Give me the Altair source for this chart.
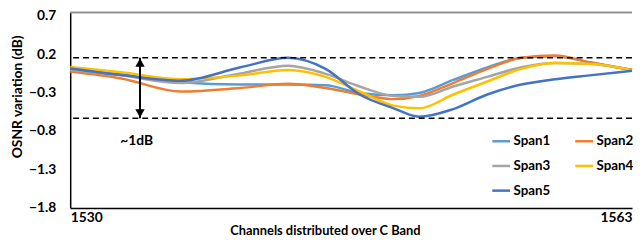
import altair as alt
import pandas as pd

channels = [1530, 1533, 1536.5, 1540, 1542.8, 1545, 1547, 1549, 1550.5, 1552.5, 1554.5, 1556.5, 1558.5, 1560.5, 1563]
span1 = [0.01, -0.06, -0.16, -0.19, -0.19, -0.20, -0.30, -0.33, -0.30, -0.13, 0.035, 0.16, 0.18, 0.10, 0.0]
span2 = [-0.02, -0.11, -0.28, -0.235, -0.18, -0.235, -0.32, -0.38, -0.34, -0.17, 0.015, 0.16, 0.19, 0.10, 0.0]
span3 = [0.0, -0.07, -0.17, -0.045, 0.056, -0.05, -0.215, -0.34, -0.35, -0.215, -0.09, 0.035, 0.09, 0.08, 0.0]
span4 = [0.04, -0.03, -0.12, -0.07, 0.0, -0.09, -0.28, -0.465, -0.50, -0.32, -0.15, 0.015, 0.09, 0.08, 0.0]
span5 = [0.02, -0.065, -0.14, 0.035, 0.16, 0.015, -0.32, -0.50, -0.61, -0.51, -0.32, -0.19, -0.12, -0.07, -0.01]

series_names = ["Span1", "Span2", "Span3", "Span4", "Span5"]
series_colors = ["#5B9BD5", "#ED7D31", "#A5A5A5", "#FFC000", "#4472C4"]
y_ticks = [0.7, 0.2, -0.3, -0.8, -1.3, -1.8]
x_ticks = [1530, 1563]
band_lines = [0.16, -0.63]
arrow_channel = 1534.1
note_text = "~1dB"
note_channel = 1533.9
note_value = -0.93

rows = []
for name, vals in zip(series_names, [span1, span2, span3, span4, span5]):
    for i, (c, v) in enumerate(zip(channels, vals)):
        rows.append({"channel": c, "value": v, "series": name, "order": i})
df = pd.DataFrame(rows)

FONT = "Lato"
Y_DOMAIN = [-1.8, 0.7515]
X_DOMAIN = [1530, 1563]
PLOT_W = 569
PLOT_H = 198

xscale = alt.Scale(domain=X_DOMAIN, nice=False, zero=False)
yscale = alt.Scale(domain=Y_DOMAIN, nice=False, zero=False)

lines = alt.Chart(df).mark_line(strokeWidth=2.5, interpolate="monotone").encode(
    x=alt.X("channel:Q", scale=xscale,
            axis=alt.Axis(values=x_ticks, labelFlush=True, ticks=False, grid=False,
                          format="d", labelPadding=3, domainColor="black", domainWidth=1.5,
                          labelOverlap=False,
                          title="Channels distributed over C Band", titleX=258,
                          titlePadding=0, titleFontSize=13,
                          labelFont=FONT, labelFontWeight="bold", labelFontSize=14, labelColor="black",
                          titleFont=FONT, titleFontWeight="bold", titleColor="black")),
    y=alt.Y("value:Q", scale=yscale,
            axis=alt.Axis(values=y_ticks, ticks=False, grid=False, labels=False,
                          domainColor="black", domainWidth=1.5,
                          title="OSNR variation (dB)", titleFontSize=14,
                          titleX=-46, titleY=85, titleBaseline="bottom", titleAngle=270,
                          titleFont=FONT, titleFontWeight="bold", titleColor="black")),
    color=alt.Color("series:N",
                    scale=alt.Scale(domain=series_names, range=series_colors),
                    legend=alt.Legend(title=None, orient="none", legendX=426, legendY=120,
                                      direction="horizontal",
                                      columns=2, columnPadding=19, rowPadding=8,
                                      symbolType="stroke", symbolSize=324, symbolStrokeWidth=2.5,
                                      labelFont=FONT, labelFontWeight="bold", labelFontSize=13.5,
                                      labelColor="black", labelOffset=2, padding=0)),
    order="order:Q",
)

ytick_df = pd.DataFrame({"tick": y_ticks})
y_labels = alt.Chart(ytick_df).mark_text(font=FONT, fontWeight="bold", fontSize=14, color="black",
                                         align="right", baseline="middle").encode(
    x=alt.value(-14),
    y=alt.Y("tick:Q", scale=yscale),
    text=alt.Text("tick:Q", format=".1f"),
)

band_df = pd.DataFrame({"value": band_lines})
bands = alt.Chart(band_df).mark_rule(color="black", strokeDash=[6, 4], strokeWidth=1.6).encode(
    y=alt.Y("value:Q", scale=yscale)
)

arrow_df = pd.DataFrame({"channel": [arrow_channel], "top": [band_lines[0]], "bottom": [band_lines[1]]})
arrow_line = alt.Chart(arrow_df).mark_rule(color="black", strokeWidth=2).encode(
    x=alt.X("channel:Q", scale=xscale),
    y=alt.Y("top:Q", scale=yscale),
    y2="bottom:Q",
)
head_top = alt.Chart(arrow_df).mark_point(shape="triangle-up", filled=True, color="black",
                                          size=90, opacity=1, yOffset=5).encode(
    x=alt.X("channel:Q", scale=xscale), y=alt.Y("top:Q", scale=yscale))
head_bot = alt.Chart(arrow_df).mark_point(shape="triangle-down", filled=True, color="black",
                                          size=90, opacity=1, yOffset=-5).encode(
    x=alt.X("channel:Q", scale=xscale), y=alt.Y("bottom:Q", scale=yscale))

note_df = pd.DataFrame({"channel": [note_channel], "value": [note_value], "label": [note_text]})
note = alt.Chart(note_df).mark_text(font=FONT, fontWeight="bold", fontSize=14, color="black").encode(
    x=alt.X("channel:Q", scale=xscale), y=alt.Y("value:Q", scale=yscale), text="label:N")

top_border = alt.Chart(band_df).mark_rule(color="#8c8c8c", strokeWidth=1.5).encode(
    y=alt.value(0), x=alt.value(0), x2=alt.value(PLOT_W))

chart = alt.layer(lines, top_border, bands, arrow_line, head_top, head_bot, note, y_labels).properties(
    width=PLOT_W, height=PLOT_H,
    autosize=alt.AutoSizeParams(type="none"),
    padding={"left": 63, "top": 3, "right": 1, "bottom": 29},
    background="white",
).configure_view(stroke=None)

chart.save("out.html", embed_options={"renderer": "svg", "actions": False})
